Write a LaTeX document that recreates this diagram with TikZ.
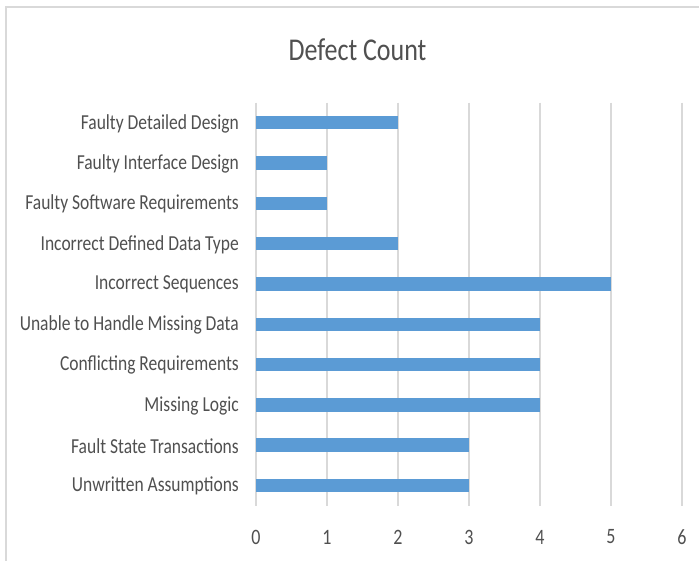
\documentclass[tikz,border=0pt]{standalone}
\usepackage{fontspec}
\setmainfont{Carlito}
\usepackage{tikz}
\definecolor{barblue}{HTML}{5B9BD5}
\definecolor{gridgray}{HTML}{D9D9D9}
\definecolor{textgray}{HTML}{505050}
\newcommand{\tallfont}[1]{\scalebox{1}[1.22]{#1}}

\begin{document}
\begin{tikzpicture}[x=1pt, y=-1pt]
                    \useasboundingbox (0,0) rectangle (699,560);
                    \fill[white] (0,0) rectangle (699,560);
                    \draw[gridgray, line width=1.2pt] (6,600) -- (6,7) -- (720,7);
                    \node[text=textgray, font=\fontsize{26}{30}\selectfont] (title) at (357.5,50) {\tallfont{Defect Count}};
                    \foreach \v in {0,...,6} {
                        \draw[gridgray, line width=1.2pt] (256+71*\v,102.5) -- (256+71*\v,505.5);
                        \node[text=textgray, font=\fontsize{18}{20}\selectfont] (tick\v) at (256+71*\v,537) {\tallfont{\v}};
                    }
                    \foreach \name/\val [count=\i from 0] in {Faulty Detailed Design/2, Faulty Interface Design/1, Faulty Software Requirements/1, Incorrect Defined Data Type/2, Incorrect Sequences/5, Unable to Handle Missing Data/4, Conflicting Requirements/4, Missing Logic/4, Fault State Transactions/3, Unwritten Assumptions/3} {
                        \fill[barblue] (256,116+40.3*\i) rectangle (256+71*\val,129.4+40.3*\i);
                        \node[anchor=east, text=textgray, inner sep=0pt, font=\fontsize{17.5}{20}\selectfont] (cat\i) at (239,123.5+40.3*\i) {\tallfont{\name}};
                    }
                \end{tikzpicture}
\end{document}
